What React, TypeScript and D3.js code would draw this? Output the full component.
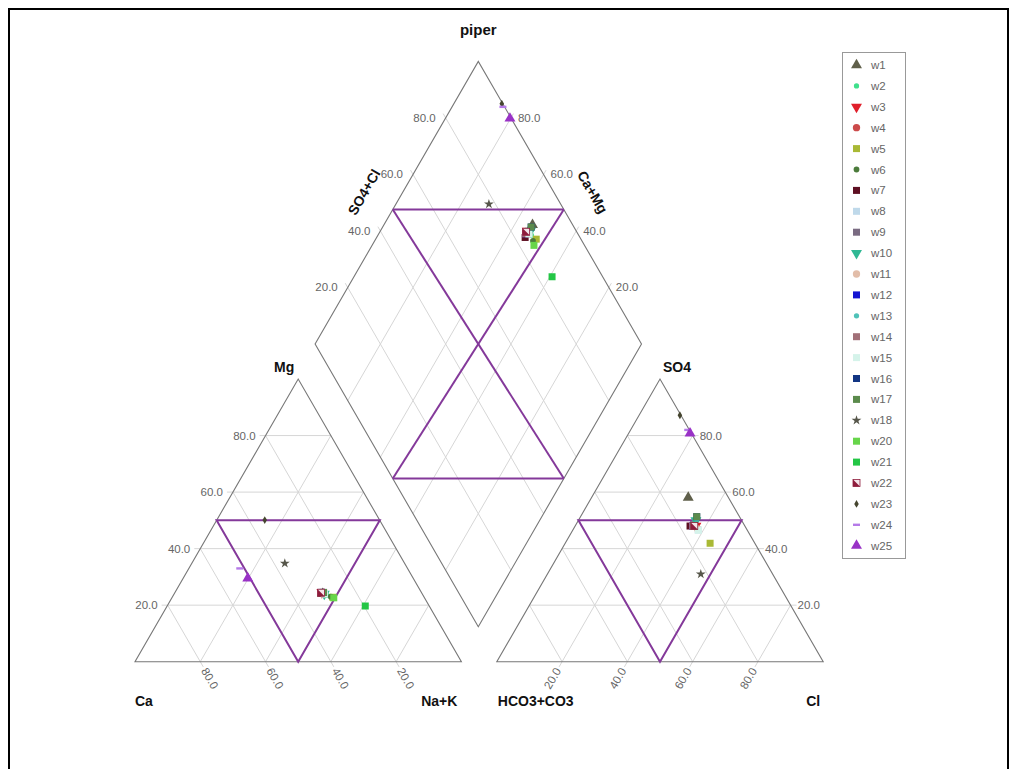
import React from "react";
import * as d3 from "d3";

// ---- data -------------------------------------------------------------
const seriesNames = [
  "w1", "w2", "w3", "w4", "w5", "w6", "w7", "w8", "w9", "w10", "w11", "w12",
  "w13", "w14", "w15", "w16", "w17", "w18", "w20", "w21", "w22", "w23", "w24", "w25",
];

const seriesColors = [
  "#5f5f4a", "#3fe08c", "#e01f2b", "#cc4a4a", "#a9b935", "#4b7b3b", "#5e0f22", "#bfd9ea",
  "#7a6b82", "#2fb894", "#e2bda9", "#1414d2", "#4fc2b8", "#a27078", "#d5f3ea", "#123583",
  "#5b8b4c", "#56564a", "#67d54a", "#23c645", "#8e1c3c", "#45452f", "#b57ae8", "#9932c6",
];

const seriesShapes = [
  "triUp", "dot", "triDown", "circle", "square", "diamond", "square", "square",
  "square", "triDown", "circle", "square", "dot", "square", "square", "square",
  "square", "star", "square", "square", "halfSquare", "smallDiamond", "dash", "triUp",
];

// cations, % meq
const caValues = [
  30.5, 29.5, 30.5, 30.0, 28.0, 28.5, 30.3, 30.0, 30.5, 30.0, 30.0, 30.5,
  30.0, 30.5, 30.0, 30.0, 30.0, 36.7, 27.8, 19.6, 30.8, 35.2, 51.4, 50.7,
];
const mgValues = [
  24.0, 23.5, 24.5, 24.5, 22.8, 23.0, 24.2, 24.0, 24.5, 24.0, 24.0, 24.5,
  24.5, 24.5, 24.0, 24.5, 24.5, 34.8, 22.6, 19.7, 24.4, 50.1, 33.0, 29.5,
];
const naKValues = [
  45.5, 47.0, 45.0, 45.5, 49.2, 48.5, 45.5, 46.0, 45.0, 46.0, 46.0, 45.0,
  45.5, 45.0, 46.0, 45.5, 45.5, 28.5, 49.6, 60.7, 44.8, 14.7, 15.6, 19.8,
];

// anions, % meq
const hco3Values = [
  12.3, 14.5, 15.0, 15.5, 13.7, 15.0, 16.8, 15.0, 15.5, 14.0, 15.0, 16.0,
  13.5, 16.0, 15.0, 13.1, 13.1, 22.0, 15.5, 15.5, 15.5, 0.3, 0.5, 0.4,
];
const so4Values = [
  58.1, 48.5, 48.0, 48.0, 41.9, 47.0, 48.0, 46.6, 48.5, 50.0, 47.0, 48.0,
  50.5, 48.0, 46.5, 51.3, 51.3, 31.0, 48.0, 48.0, 48.0, 87.2, 82.0, 80.8,
];
const clValues = [
  29.6, 37.0, 37.0, 36.5, 44.4, 38.0, 35.2, 38.4, 36.0, 36.0, 38.0, 36.0,
  36.0, 36.0, 38.5, 35.6, 35.6, 47.0, 36.5, 36.5, 36.5, 12.5, 17.5, 18.8,
];

const gridTicks = [20, 40, 60, 80];

// facies boundary positions (%) along the diamond edges
const diamondUpperCut = 47.6;
const diamondLowerCut = 52.4;

// ---- geometry ---------------------------------------------------------
const S = 326.4;
const H = (S * Math.sqrt(3)) / 2;
const BASE_Y = 661.7;
const CAT_X0 = 135;
const AN_X0 = 496.8;
const DIA_BX = 478.3;
const DIA_BY = 626.7;

const side = d3.scaleLinear().domain([0, 100]).range([0, S]);
const rise = d3.scaleLinear().domain([0, 100]).range([0, H]);

type Pt = [number, number];

const catXY = (ca: number, mg: number, nak: number): Pt => [
  CAT_X0 + side(nak) + side(mg) / 2,
  BASE_Y - rise(mg),
];
const anXY = (hco3: number, so4: number, cl: number): Pt => [
  AN_X0 + side(cl) + side(so4) / 2,
  BASE_Y - rise(so4),
];
// a = Ca+Mg, b = SO4+Cl
const diaXY = (a: number, b: number): Pt => [
  DIA_BX + (side(b) - side(a)) / 2,
  DIA_BY - rise(a) - rise(b),
];

const GRID = "#d6d6d6";
const OUTLINE = "#777";
const FACIES = "#84399a";
const TICK_TEXT = "#666";
const FONT = "'Liberation Sans', Arial, sans-serif";

const line = d3.line();

function Marker({ shape, color, x, y }: { shape: string; color: string; x: number; y: number }) {
  const t = `translate(${x},${y})`;
  switch (shape) {
    case "triUp":
      return <path transform={t} d={d3.symbol(d3.symbolTriangle, 52)()!} fill={color} />;
    case "triDown":
      return <path transform={`${t} rotate(180)`} d={d3.symbol(d3.symbolTriangle, 52)()!} fill={color} />;
    case "circle":
      return <path transform={t} d={d3.symbol(d3.symbolCircle, 42)()!} fill={color} />;
    case "dot":
      return <path transform={t} d={d3.symbol(d3.symbolCircle, 22)()!} fill={color} />;
    case "square":
      return <path transform={t} d={d3.symbol(d3.symbolSquare, 49)()!} fill={color} />;
    case "diamond":
      return <path transform={t} d={d3.symbol(d3.symbolCircle, 26)()!} fill={color} />;
    case "smallDiamond":
      return <path transform={t} d={d3.symbol(d3.symbolDiamond, 18)()!} fill={color} />;
    case "star":
      return <path transform={t} d={d3.symbol(d3.symbolStar, 30)()!} fill={color} />;
    case "dash":
      return <rect transform={t} x={-3.5} y={-1.2} width={7} height={2.4} fill={color} />;
    case "halfSquare":
      return (
        <g transform={t}>
          <rect x={-3.5} y={-3.5} width={7} height={7} fill="#f4e4ea" stroke={color} strokeWidth={0.8} />
          <path d="M-3.5,-3.5 L3.5,3.5 L-3.5,3.5 Z" fill={color} />
        </g>
      );
    default:
      return null;
  }
}

function fmt(v: number) {
  return v.toFixed(1);
}

export default function App() {
  // triangle and diamond outlines
  const catTri: Pt[] = [catXY(100, 0, 0), catXY(0, 0, 100), catXY(0, 100, 0)];
  const anTri: Pt[] = [anXY(100, 0, 0), anXY(0, 0, 100), anXY(0, 100, 0)];
  const diamond: Pt[] = [diaXY(0, 0), diaXY(100, 0), diaXY(100, 100), diaXY(0, 100)];

  const grid: { d: string }[] = [];
  const labels: React.ReactNode[] = [];

  gridTicks.forEach((t) => {
    // cation triangle: Mg (horizontal), Ca, Na+K
    const mgL = catXY(100 - t, t, 0);
    const mgR = catXY(0, t, 100 - t);
    grid.push({ d: line([[mgL[0] - 6, mgL[1]], mgR])! });
    labels.push(
      <text key={`mg${t}`} x={mgL[0] - 10} y={mgL[1]} textAnchor="end" dominantBaseline="central">
        {fmt(t)}
      </text>
    );
    const caB = catXY(t, 0, 100 - t);
    const caE = catXY(t, 100 - t, 0);
    grid.push({ d: line([[caB[0] + 3, caB[1] + 5.2], caE])! });
    labels.push(
      <text
        key={`ca${t}`}
        transform={`translate(${caB[0] + 4},${caB[1] + 7}) rotate(60)`}
        dominantBaseline="central"
      >
        {fmt(t)}
      </text>
    );
    grid.push({ d: line([catXY(100 - t, 0, t), catXY(0, 100 - t, t)])! });

    // anion triangle: SO4 (horizontal), Cl, HCO3
    const soL = anXY(100 - t, t, 0);
    const soR = anXY(0, t, 100 - t);
    grid.push({ d: line([soL, [soR[0] + 6, soR[1]]])! });
    labels.push(
      <text key={`so${t}`} x={soR[0] + 7} y={soR[1]} dominantBaseline="central">
        {fmt(t)}
      </text>
    );
    const clB = anXY(100 - t, 0, t);
    const clE = anXY(0, 100 - t, t);
    grid.push({ d: line([[clB[0] - 3, clB[1] + 5.2], clE])! });
    labels.push(
      <text
        key={`cl${t}`}
        transform={`translate(${clB[0] - 4},${clB[1] + 7}) rotate(-60)`}
        textAnchor="end"
        dominantBaseline="central"
      >
        {fmt(t)}
      </text>
    );
    grid.push({ d: line([anXY(t, 0, 100 - t), anXY(t, 100 - t, 0)])! });

    // diamond: SO4+Cl lines (labelled on upper-left edge), Ca+Mg lines (upper-right edge)
    const bS = diaXY(0, t);
    const bE = diaXY(100, t);
    grid.push({ d: line([bS, [bE[0] - 2.5, bE[1] - 4.3]])! });
    labels.push(
      <text key={`b${t}`} x={bE[0] - 10} y={bE[1]} textAnchor="end" dominantBaseline="central">
        {fmt(t)}
      </text>
    );
    const aS = diaXY(t, 0);
    const aE = diaXY(t, 100);
    grid.push({ d: line([aS, [aE[0] + 2.5, aE[1] - 4.3]])! });
    labels.push(
      <text key={`a${t}`} x={aE[0] + 7} y={aE[1]} dominantBaseline="central">
        {fmt(t)}
      </text>
    );
  });

  // hydrochemical facies boundaries
  const catFacies: Pt[] = [catXY(50, 50, 0), catXY(0, 50, 50), catXY(50, 0, 50)];
  const anFacies: Pt[] = [anXY(50, 50, 0), anXY(0, 50, 50), anXY(50, 0, 50)];
  const UL = diaXY(100, diamondUpperCut);
  const UR = diaXY(diamondUpperCut, 100);
  const LL = diaXY(diamondLowerCut, 0);
  const LR = diaXY(0, diamondLowerCut);
  const diaFacies = [
    [UL, UR],
    [UL, LR],
    [UR, LL],
    [LL, LR],
  ] as Pt[][];

  const catApex = catXY(0, 100, 0);
  const anApex = anXY(0, 100, 0);
  const catL = catXY(100, 0, 0);
  const catR = catXY(0, 0, 100);
  const anL = anXY(100, 0, 0);
  const anR = anXY(0, 0, 100);

  const legendX = 842;
  const legendY = 52;
  const legendStep = 20.9;

  return (
    <svg
      width={1017}
      height={769}
      style={{ position: "absolute", left: 0, top: 0, background: "#fff" }}
      fontFamily={FONT}
    >
      <rect x={0} y={0} width={1017} height={769} fill="#fff" />
      <path d="M9,770 V9 H1008 V770" fill="none" stroke="#000" strokeWidth={2} />

      <text x={478.3} y={35} textAnchor="middle" fontSize={15} fontWeight="bold" fill="#111">
        piper
      </text>

      {/* grid */}
      <g stroke={GRID} strokeWidth={1} fill="none">
        {grid.map((g, i) => (
          <path key={i} d={g.d} />
        ))}
      </g>

      {/* outlines */}
      <g stroke={OUTLINE} strokeWidth={1.1} fill="none">
        <path d={line(catTri)! + "Z"} />
        <path d={line(anTri)! + "Z"} />
        <path d={line(diamond)! + "Z"} />
      </g>

      {/* facies */}
      <g stroke={FACIES} strokeWidth={2} fill="none" strokeLinejoin="miter">
        <path d={line(catFacies)! + "Z"} />
        <path d={line(anFacies)! + "Z"} />
        {diaFacies.map((seg, i) => (
          <path key={i} d={line(seg)!} />
        ))}
      </g>

      {/* tick labels */}
      <g fontSize={11.5} fill={TICK_TEXT}>
        {labels}
      </g>

      {/* axis titles */}
      <g fontSize={14} fontWeight="bold" fill="#111">
        <text x={catApex[0] - 4} y={catApex[1] - 7} textAnchor="end">Mg</text>
        <text x={anApex[0] + 3} y={anApex[1] - 7}>SO4</text>
        <text x={catL[0]} y={706}>Ca</text>
        <text x={catR[0] - 4} y={706} textAnchor="end">Na+K</text>
        <text x={anL[0] + 1} y={706}>HCO3+CO3</text>
        <text x={anR[0] - 3} y={706} textAnchor="end">Cl</text>
        <text transform="translate(364,192) rotate(-60)" textAnchor="middle" dominantBaseline="central">
          SO4+Cl
        </text>
        <text transform="translate(592.6,192) rotate(60)" textAnchor="middle" dominantBaseline="central">
          Ca+Mg
        </text>
      </g>

      {/* samples */}
      <g>
        {seriesNames.map((name, i) => {
          const c = catXY(caValues[i], mgValues[i], naKValues[i]);
          const a = anXY(hco3Values[i], so4Values[i], clValues[i]);
          const d = diaXY(caValues[i] + mgValues[i], so4Values[i] + clValues[i]);
          return (
            <g key={name}>
              <Marker shape={seriesShapes[i]} color={seriesColors[i]} x={c[0]} y={c[1]} />
              <Marker shape={seriesShapes[i]} color={seriesColors[i]} x={a[0]} y={a[1]} />
              <Marker shape={seriesShapes[i]} color={seriesColors[i]} x={d[0]} y={d[1]} />
            </g>
          );
        })}
      </g>

      {/* legend */}
      <g>
        <rect
          x={legendX + 0.5}
          y={legendY + 0.5}
          width={63}
          height={506}
          fill="#fff"
          stroke="#999"
          strokeWidth={1}
        />
        {seriesNames.map((name, i) => {
          const y = legendY + 13 + i * legendStep;
          return (
            <g key={name}>
              <Marker shape={seriesShapes[i]} color={seriesColors[i]} x={legendX + 14.5} y={y} />
              <text x={legendX + 29} y={y} dominantBaseline="central" fontSize={11.5} fill={TICK_TEXT}>
                {name}
              </text>
            </g>
          );
        })}
      </g>
    </svg>
  );
}
